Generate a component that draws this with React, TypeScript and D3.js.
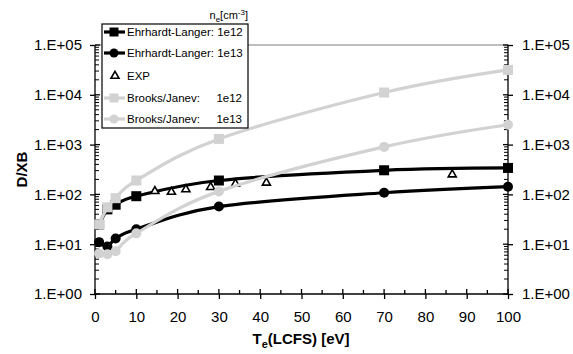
import { useEffect, useRef } from 'react';
import * as d3 from 'd3';

// ─── Data ───────────────────────────────────────────────────

const teGrid = [1, 3, 5, 10, 30, 70, 100];
const el1e12 = [25, 50, 62, 92, 190, 305, 340];
const el1e13 = [11, 9, 13, 20, 57, 108, 143];
const bj1e12 = [25, 55, 84, 190, 1300, 11100, 31600];
const bj1e13 = [6.5, 6.3, 7.2, 16.5, 115, 900, 2500];

const expTe = [14.5, 18.5, 22, 28, 34, 41.5, 86.5];
const expDxb = [116, 112, 126, 140, 163, 171, 250];

const xTicks = [0, 10, 20, 30, 40, 50, 60, 70, 80, 90, 100];
const yDecades = [1, 10, 100, 1000, 10000, 100000];
const yLabels = ['1.E+00', '1.E+01', '1.E+02', '1.E+03', '1.E+04', '1.E+05'];

const GRAY = '#d2d2d2';

const series = [
  { name: 'Ehrhardt-Langer: 1e12', values: el1e12, color: '#000', marker: 'square' },
  { name: 'Ehrhardt-Langer: 1e13', values: el1e13, color: '#000', marker: 'circle' },
  { name: 'Brooks/Janev: 1e12', values: bj1e12, color: GRAY, marker: 'square' },
  { name: 'Brooks/Janev: 1e13', values: bj1e13, color: GRAY, marker: 'circle' },
];

// ─── Component ──────────────────────────────────────────────

export default function App() {
  const svgRef = useRef<SVGSVGElement>(null);
  const width = 573;
  const height = 354;

  useEffect(() => {
    if (!svgRef.current) return;
    const svg = d3.select(svgRef.current);
    svg.selectAll('*').remove();

    const x = d3.scaleLinear().domain([0, 100]).range([95, 508]);
    const y = d3.scaleLog().domain([1, 1e5]).range([294, 45]);
    const font = 'Liberation Sans, Arial, sans-serif';

    // top frame (gray)
    svg.append('line')
      .attr('x1', x(0)).attr('x2', x(100))
      .attr('y1', y(1e5)).attr('y2', y(1e5))
      .attr('stroke', '#a8a8a8').attr('stroke-width', 1.5);

    // Axes
    const styleAxis = (sel: any) => {
      sel.selectAll('text').attr('fill', '#000').attr('font-size', '15px').attr('font-family', font);
      sel.selectAll('line,path').attr('stroke', '#000').attr('stroke-width', 1.3);
    };

    svg.append('g').attr('transform', `translate(${x(0)},0)`)
      .call(d3.axisLeft(y).tickValues(yDecades).tickFormat((_, i) => yLabels[i]).tickSizeOuter(0).tickSize(5).tickPadding(8))
      .call(styleAxis)
      .call((sel) => sel.select('.domain').remove());

    svg.append('g').attr('transform', `translate(${x(100)},0)`)
      .call(d3.axisRight(y).tickValues(yDecades).tickFormat((_, i) => yLabels[i]).tickSizeOuter(0).tickSize(5).tickPadding(9))
      .call(styleAxis)
      .call((sel) => sel.select('.domain').remove());

    svg.append('g').attr('transform', `translate(0,${y(1)})`)
      .call(d3.axisBottom(x).tickValues(xTicks).tickSizeOuter(0).tickSize(5).tickPadding(12))
      .call(styleAxis)
      .call((sel) => sel.select('.domain').remove());

    const ax = svg.append('g').attr('stroke', '#000').attr('stroke-width', 1.3);
    // axis lines
    ax.append('line').attr('x1', x(0)).attr('x2', x(0)).attr('y1', y(1e5)).attr('y2', y(1));
    ax.append('line').attr('x1', x(100)).attr('x2', x(100)).attr('y1', y(1e5)).attr('y2', y(1));
    ax.append('line').attr('x1', x(0)).attr('x2', x(100)).attr('y1', y(1)).attr('y2', y(1));

    // inner half of major ticks + minor ticks
    const minors = y.ticks().filter((v) => !yDecades.includes(v));
    ax.selectAll('.lmaj').data(yDecades).join('line').attr('class', 'lmaj')
      .attr('x1', x(0)).attr('x2', x(0) + 5).attr('y1', (d) => y(d)).attr('y2', (d) => y(d));
    ax.selectAll('.rmaj').data(yDecades).join('line').attr('class', 'rmaj')
      .attr('x1', x(100) - 5).attr('x2', x(100)).attr('y1', (d) => y(d)).attr('y2', (d) => y(d));
    ax.selectAll('.lmin').data(minors).join('line').attr('class', 'lmin')
      .attr('x1', x(0)).attr('x2', x(0) + 4).attr('y1', (d) => y(d)).attr('y2', (d) => y(d))
      .attr('stroke-width', 1);
    ax.selectAll('.rmin').data(minors).join('line').attr('class', 'rmin')
      .attr('x1', x(100) - 4).attr('x2', x(100)).attr('y1', (d) => y(d)).attr('y2', (d) => y(d))
      .attr('stroke-width', 1);
    ax.selectAll('.xmaj').data(xTicks).join('line').attr('class', 'xmaj')
      .attr('x1', (d) => x(d)).attr('x2', (d) => x(d)).attr('y1', y(1) - 5).attr('y2', y(1));
    ax.selectAll('.xmin').data(xTicks.slice(0, -1).map((d) => d + 5)).join('line').attr('class', 'xmin')
      .attr('x1', (d) => x(d)).attr('x2', (d) => x(d)).attr('y1', y(1) - 4).attr('y2', y(1));

    // Series
    const line = d3.line<number>()
      .x((_, i) => x(teGrid[i]))
      .y((d) => y(d))
      .curve(d3.curveCardinal.tension(0));

    const drawSeries = (s: typeof series[number]) => {
      const g = svg.append('g');
      g.append('path').datum(s.values)
        .attr('d', line)
        .attr('fill', 'none')
        .attr('stroke', s.color)
        .attr('stroke-width', 3.2);
      if (s.marker === 'square') {
        g.selectAll('rect').data(s.values).join('rect')
          .attr('x', (_, i) => x(teGrid[i]) - 5).attr('y', (d) => y(d) - 5)
          .attr('width', 10).attr('height', 10)
          .attr('fill', s.color);
      } else {
        g.selectAll('circle').data(s.values).join('circle')
          .attr('cx', (_, i) => x(teGrid[i])).attr('cy', (d) => y(d))
          .attr('r', 5).attr('fill', s.color);
      }
    };

    drawSeries(series[0]);
    drawSeries(series[1]);

    // EXP triangles
    const tri = d3.symbol().type(d3.symbolTriangle).size(28);
    svg.append('g').selectAll('path').data(expDxb).join('path')
      .attr('transform', (d, i) => `translate(${x(expTe[i])},${y(d)})`)
      .attr('d', tri)
      .attr('fill', '#fff').attr('stroke', '#000').attr('stroke-width', 1.6);

    drawSeries(series[2]);
    drawSeries(series[3]);

    // Legend
    const lg = svg.append('g');
    lg.append('rect').attr('x', 102).attr('y', 24).attr('width', 146).attr('height', 104)
      .attr('fill', '#fff').attr('stroke', '#000').attr('stroke-width', 1.2);
    const rows = [32, 53, 76, 98, 119];
    const legendItems = [series[0], series[1], null, series[2], series[3]];
    legendItems.forEach((s, i) => {
      const ry = rows[i];
      if (s) {
        lg.append('line').attr('x1', 104).attr('x2', 125).attr('y1', ry).attr('y2', ry)
          .attr('stroke', s.color).attr('stroke-width', 3.2);
        if (s.marker === 'square') {
          lg.append('rect').attr('x', 109.5).attr('y', ry - 4.5).attr('width', 9).attr('height', 9).attr('fill', s.color);
        } else {
          lg.append('circle').attr('cx', 114).attr('cy', ry).attr('r', 4.5).attr('fill', s.color);
        }
        const [label, dens] = s.name.split(': ');
        if (s.color === GRAY) {
          lg.append('text').attr('x', 127).attr('y', ry).attr('dy', '0.36em')
            .attr('font-size', '11.5px').attr('font-family', font).text(label + ':');
          lg.append('text').attr('x', 242).attr('y', ry).attr('dy', '0.36em').attr('text-anchor', 'end')
            .attr('font-size', '11.5px').attr('font-family', font).text(dens);
        } else {
          lg.append('text').attr('x', 127).attr('y', ry).attr('dy', '0.36em')
            .attr('font-size', '11.5px').attr('font-family', font).text(s.name);
        }
      } else {
        lg.append('path').attr('transform', `translate(115,${ry})`).attr('d', tri)
          .attr('fill', '#fff').attr('stroke', '#000').attr('stroke-width', 1.6);
        lg.append('text').attr('x', 127).attr('y', ry).attr('dy', '0.36em')
          .attr('font-size', '11.5px').attr('font-family', font).text('EXP');
      }
    });

    // n_e[cm^-3] label
    const ne = svg.append('text').attr('x', 248).attr('y', 19).attr('text-anchor', 'end')
      .attr('font-size', '11px').attr('font-family', font);
    ne.append('tspan').text('n');
    ne.append('tspan').attr('font-size', '8px').attr('dy', 3).text('e');
    ne.append('tspan').attr('dy', -3).text('[cm');
    ne.append('tspan').attr('font-size', '8px').attr('dy', -4).text('-3');
    ne.append('tspan').attr('dy', 4).text(']');

    // Axis titles
    const xt = svg.append('text').attr('x', 301).attr('y', 344).attr('text-anchor', 'middle')
      .attr('font-size', '15px').attr('font-weight', 'bold').attr('font-family', font);
    xt.append('tspan').text('T');
    xt.append('tspan').attr('font-size', '11px').attr('dy', 4).text('e');
    xt.append('tspan').attr('dy', -4).text('(LCFS) [eV]');

    svg.append('text')
      .attr('transform', `translate(27,${(y(1) + y(1e5)) / 2}) rotate(-90)`)
      .attr('text-anchor', 'middle')
      .attr('font-size', '15px').attr('font-weight', 'bold').attr('font-family', font)
      .text('D/XB');
  }, []);

  return (
    <svg ref={svgRef} width={width} height={height}
      style={{ position: 'absolute', left: 0, top: 0, background: '#fff' }} />
  );
}
